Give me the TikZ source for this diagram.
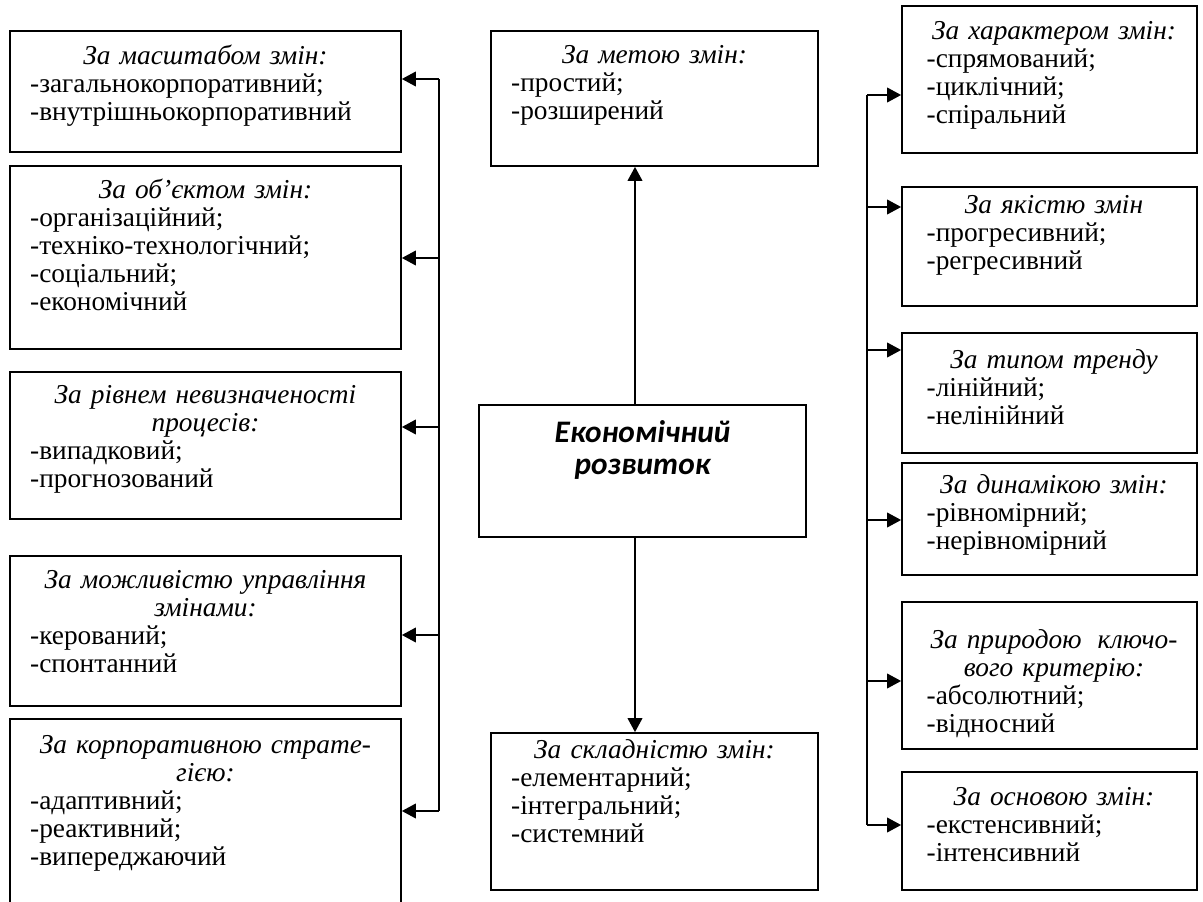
\documentclass[tikz,border=0pt]{standalone}
\usepackage{fontspec}
\setmainfont{Liberation Serif}
\newfontfamily\carlito{Carlito}
\usetikzlibrary{arrows.meta,fit}

\begin{document}
\begin{tikzpicture}[x=0.75pt,y=0.75pt,yscale=-1,xscale=1,
  box/.style={draw, line width=1.3pt, inner sep=0pt},
  txt/.style={inner sep=0pt, anchor=north, align=left, font=\fontsize{20.5}{21}\selectfont,
    execute at begin node=\setlength{\parindent}{0pt}},
  bus/.style={line width=1.2pt},
  arr/.style={line width=1.2pt, -{Triangle[length=10.5pt,width=11pt]}}]
%set diagram size: 1203 x 902
\path[use as bounding box] (0,0) rectangle (1203,902);
\clip (0,0) rectangle (1203,902);

%Shape: Rectangle [left column]
\node[box, fit={(10,31) (401,152)}] (masht) {};
\node[box, fit={(10,166) (401,349)}] (obiekt) {};
\node[box, fit={(10,372) (401,519)}] (nevyzn) {};
\node[box, fit={(10,556) (401,706)}] (upravl) {};
\node[box, fit={(10,719) (401,930)}] (strat) {};
%Shape: Rectangle [middle column]
\node[box, fit={(491,31) (818,166)}] (meta) {};
\node[box, fit={(479,405) (806,537)}] (rozv) {};
\node[box, fit={(491,733) (818,890)}] (sklad) {};
%Shape: Rectangle [right column]
\node[box, fit={(902,6) (1197,153)}] (kharakt) {};
\node[box, fit={(902,187) (1197,306)}] (yakist) {};
\node[box, fit={(902,333) (1197,453)}] (trend) {};
\node[box, fit={(902,463) (1197,575)}] (dynam) {};
\node[box, fit={(902,602) (1197,749)}] (pryrod) {};
\node[box, fit={(902,772) (1197,890)}] (osnova) {};

% Text Node
\node[txt, text width=263pt] (masht-t) at (205.5,44.4) {\hbox to\hsize{\hss\itshape\strut За масштабом змін:\hss}\par -загальнокорпоративний;\\-внутрішньокорпоративний};
% Text Node
\node[txt, text width=263pt] (obiekt-t) at (205.5,178.4) {\hbox to\hsize{\hss\itshape\strut За об’єктом змін:\hss}\par -організаційний;\\-техніко-технологічний;\\-соціальний;\\-економічний};
% Text Node
\node[txt, text width=263pt] (nevyzn-t) at (205.5,383.4) {\hbox to\hsize{\hss\itshape\strut За рівнем невизначеності\hss}\par \hbox to\hsize{\hss\itshape\strut процесів:\hss}\par -випадковий;\\-прогнозований};
% Text Node
\node[txt, text width=263pt] (upravl-t) at (205.5,568.4) {\hbox to\hsize{\hss\itshape\strut За можливістю управління\hss}\par \hbox to\hsize{\hss\itshape\strut змінами:\hss}\par -керований;\\-спонтанний};
% Text Node
\node[txt, text width=263pt] (strat-t) at (205.5,733.4) {\hbox to\hsize{\hss\itshape\strut За корпоративною страте-\hss}\par \hbox to\hsize{\hss\itshape\strut гією:\hss}\par -адаптивний;\\-реактивний;\\-випереджаючий};
% Text Node
\node[txt, text width=215pt] (meta-t) at (654.5,43.4) {\hbox to\hsize{\hss\itshape\strut За метою змін:\hss}\par -простий;\\-розширений};
% Text Node
\node[inner sep=0pt, anchor=north, align=center, font=\carlito\bfseries\itshape\fontsize{23.5}{24}\selectfont] (rozv-t) at (642.5,419.6) {\strut Економічний\\розвиток};
% Text Node
\node[txt, text width=215pt] (sklad-t) at (654.5,738.4) {\hbox to\hsize{\hss\itshape\strut За складністю змін:\hss}\par -елементарний;\\-інтегральний;\\-системний};
% Text Node
\node[txt, text width=191pt] (kharakt-t) at (1054,19.4) {\hbox to\hsize{\hss\itshape\strut За характером змін:\hss}\par -спрямований;\\-циклічний;\\-спіральний};
% Text Node
\node[txt, text width=191pt] (yakist-t) at (1054,193.4) {\hbox to\hsize{\hss\itshape\strut За якістю змін\hss}\par -прогресивний;\\-регресивний};
% Text Node
\node[txt, text width=191pt] (trend-t) at (1054,348.4) {\hbox to\hsize{\hss\itshape\strut За типом тренду\hss}\par -лінійний;\\-нелінійний};
% Text Node
\node[txt, text width=191pt] (dynam-t) at (1054,473.4) {\hbox to\hsize{\hss\itshape\strut За динамікою змін:\hss}\par -рівномірний;\\-нерівномірний};
% Text Node
\node[txt, text width=191pt] (pryrod-t) at (1054,628.4) {\hbox to\hsize{\hss\itshape\strut За природою\hspace{0.25em} ключо-\hss}\par \hbox to\hsize{\hss\itshape\strut вого критерію:\hss}\par -абсолютний;\\-відносний};
% Text Node
\node[txt, text width=191pt] (osnova-t) at (1054,785.4) {\hbox to\hsize{\hss\itshape\strut За основою змін:\hss}\par -екстенсивний;\\-інтенсивний};

%Straight Lines [centre up and down]
\coordinate (cx) at (635,0);
\draw[arr] (rozv.north -| cx) -- (meta.south -| cx);
\draw[arr] (rozv.south -| cx) -- (sklad.north -| cx);

%Straight Lines [left bus]
\coordinate (lb1) at (439,79);
\coordinate (lb2) at (439,258);
\coordinate (lb3) at (439,427);
\coordinate (lb4) at (439,635);
\coordinate (lb5) at (439,811);
\draw[bus] (lb1) -- (lb5);
\draw[arr] (lb1) -- (masht.east |- lb1);
\draw[arr] (lb2) -- (obiekt.east |- lb2);
\draw[arr] (lb3) -- (nevyzn.east |- lb3);
\draw[arr] (lb4) -- (upravl.east |- lb4);
\draw[arr] (lb5) -- (strat.east |- lb5);

%Straight Lines [right bus]
\coordinate (rb1) at (867,95);
\coordinate (rb2) at (867,207);
\coordinate (rb3) at (867,350);
\coordinate (rb4) at (867,520);
\coordinate (rb5) at (867,681);
\coordinate (rb6) at (867,825);
\draw[bus] (rb1) -- (rb6);
\draw[arr] (rb1) -- (kharakt.west |- rb1);
\draw[arr] (rb2) -- (yakist.west |- rb2);
\draw[arr] (rb3) -- (trend.west |- rb3);
\draw[arr] (rb4) -- (dynam.west |- rb4);
\draw[arr] (rb5) -- (pryrod.west |- rb5);
\draw[arr] (rb6) -- (osnova.west |- rb6);

\end{tikzpicture}
\end{document}
